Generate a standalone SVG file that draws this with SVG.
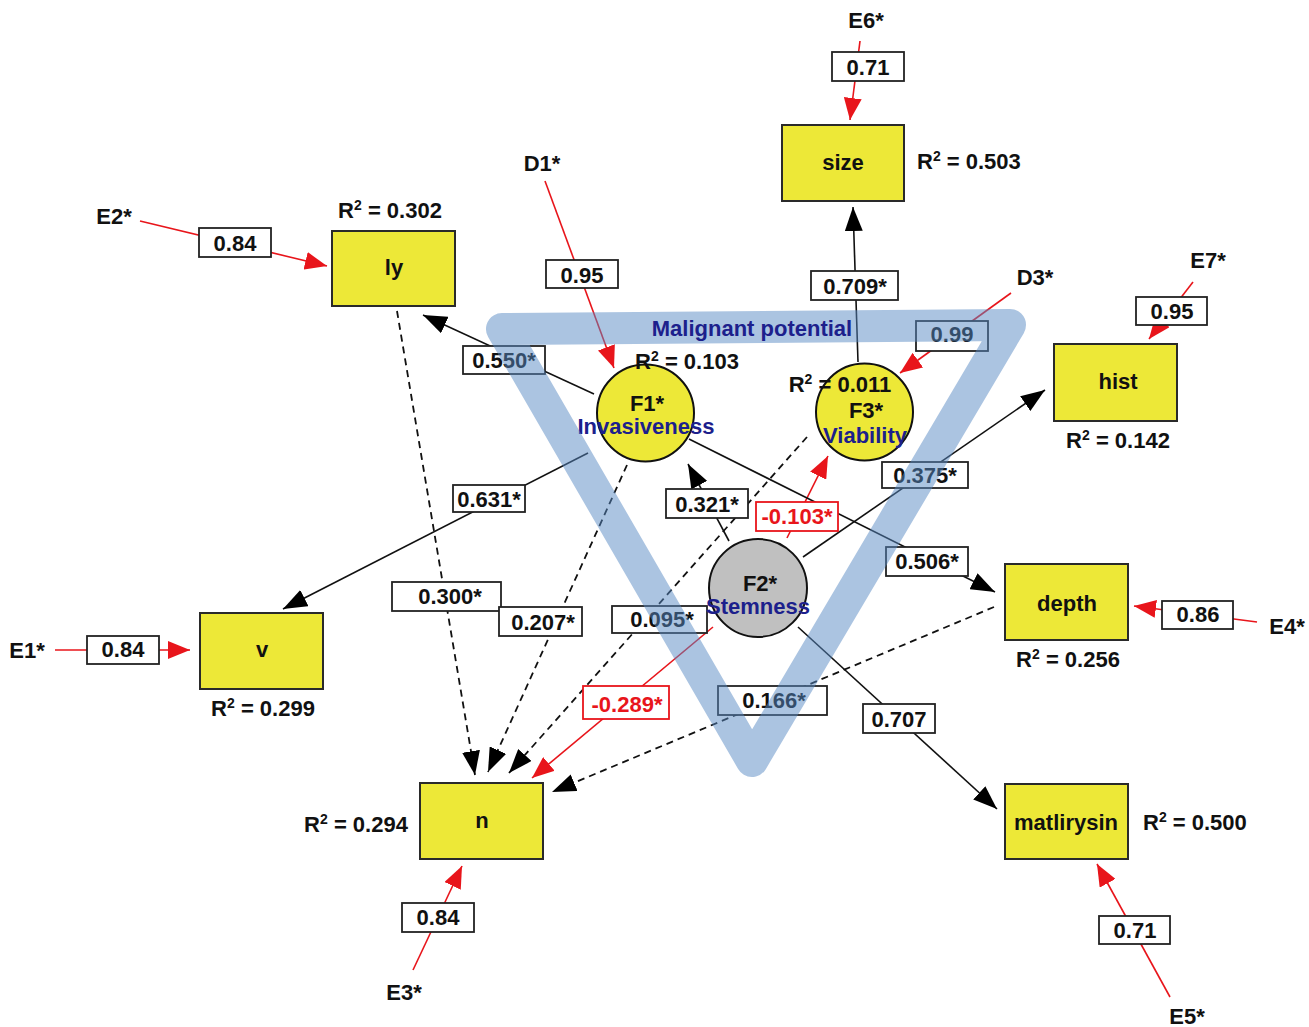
<svg xmlns="http://www.w3.org/2000/svg" width="1309" height="1027" viewBox="0 0 1309 1027">
<style>
text{font-family:"Liberation Sans",Arial,sans-serif;font-weight:bold;font-size:22px;fill:#111;text-anchor:middle}
.st{text-anchor:start}
.sup{font-size:14px}
.red{fill:#e8151b}
.blue{fill:#1c208c}
.box{fill:#fff;stroke:#222;stroke-width:1.8}
.rbox{fill:#fff;stroke:#e8151b;stroke-width:1.8}
.node{fill:#ede837;stroke:#2a2a2a;stroke-width:2}
.lat{fill:#ede837;stroke:#111;stroke-width:2}
.lat2{fill:#c0c0c0;stroke:#111;stroke-width:2}
.re{stroke:#e8151b;stroke-width:1.6;fill:none;marker-end:url(#ar)}
.bk{stroke:#111;stroke-width:1.6;fill:none;marker-end:url(#ab)}
.ds{stroke:#111;stroke-width:1.8;fill:none;stroke-dasharray:7,5;marker-end:url(#ab)}
</style>
<defs>
<marker id="ar" viewBox="0 0 22 18" refX="22" refY="9" markerWidth="22" markerHeight="18" markerUnits="userSpaceOnUse" orient="auto">
<path d="M0,0 L22,9 L0,18 Z" fill="#e8151b"/>
</marker>
<marker id="ab" viewBox="0 0 24 18" refX="24" refY="9" markerWidth="24" markerHeight="18" markerUnits="userSpaceOnUse" orient="auto">
<path d="M0,0 L24,9 L0,18 Z" fill="#000"/>
</marker>
</defs>
<rect width="1309" height="1027" fill="#fff"/>

<g id="connectors">
<line class="re" x1="860" y1="41" x2="850" y2="120"/>
<line class="re" x1="545" y1="181" x2="614" y2="368"/>
<line class="re" x1="140" y1="221" x2="327" y2="266"/>
<line class="re" x1="1011" y1="293" x2="900" y2="373"/>
<line class="re" x1="1193" y1="282" x2="1149" y2="339"/>
<line class="re" x1="1257" y1="622" x2="1134" y2="606"/>
<line class="re" x1="55" y1="650" x2="190" y2="650"/>
<line class="re" x1="413" y1="970" x2="462" y2="866"/>
<line class="re" x1="1170" y1="997" x2="1097" y2="864"/>
<line class="re" x1="787" y1="538" x2="828" y2="456"/>
<line class="re" x1="713" y1="627" x2="532" y2="778"/>

<line class="bk" x1="858" y1="362" x2="853" y2="207"/>
<line class="bk" x1="594" y1="394" x2="423" y2="315"/>
<line class="bk" x1="588" y1="453" x2="283" y2="609"/>
<line class="bk" x1="729" y1="541" x2="688" y2="464"/>
<line class="bk" x1="689" y1="439" x2="995" y2="592"/>
<line class="bk" x1="803" y1="557" x2="1045" y2="390"/>
<line class="bk" x1="798" y1="627" x2="997" y2="809"/>

<line class="ds" x1="397" y1="311" x2="475" y2="775"/>
<line class="ds" x1="627" y1="465" x2="488" y2="772"/>
<line class="ds" x1="807" y1="437" x2="509" y2="773"/>
<line class="ds" x1="994" y1="607" x2="552" y2="792"/>

<g id="lab-e6"><rect class="box" x="832" y="52" width="72" height="29"/><text x="868" y="75">0.71</text></g>
<g id="lab-d1"><rect class="box" x="546" y="260" width="72" height="28"/><text x="582" y="283">0.95</text></g>
<g id="lab-e2"><rect class="box" x="199" y="228" width="72" height="29"/><text x="235" y="251">0.84</text></g>
<g id="lab-709"><rect class="box" x="811" y="271" width="87" height="29"/><text x="855" y="294">0.709*</text></g>
<g id="lab-d3"><rect class="box" x="916" y="321" width="72" height="30"/><text x="952" y="342">0.99</text></g>
<g id="lab-e7"><rect class="box" x="1136" y="297" width="71" height="28"/><text x="1172" y="319">0.95</text></g>
<g id="lab-550"><rect class="box" x="463" y="346" width="82" height="28"/><text x="504" y="368">0.550*</text></g>
<g id="lab-631"><rect class="box" x="453" y="485" width="72" height="27"/><text x="489" y="507">0.631*</text></g>
<g id="lab-321"><rect class="box" x="666" y="489" width="82" height="29"/><text x="707" y="512">0.321*</text></g>
<g id="lab-103"><rect class="rbox" x="756" y="502" width="82" height="29"/><text class="red" x="797" y="524">-0.103*</text></g>
<g id="lab-375"><rect class="box" x="882" y="462" width="86" height="26"/><text x="925" y="483">0.375*</text></g>
<g id="lab-506"><rect class="box" x="886" y="547" width="82" height="29"/><text x="927" y="569">0.506*</text></g>
<g id="lab-e4"><rect class="box" x="1162" y="601" width="71" height="28"/><text x="1198" y="622">0.86</text></g>
<g id="lab-707"><rect class="box" x="863" y="704" width="72" height="29"/><text x="899" y="727">0.707</text></g>
<g id="lab-166"><rect class="box" x="718" y="686" width="109" height="29"/><text x="774" y="708">0.166*</text></g>
<g id="lab-095"><rect class="box" x="612" y="606" width="95" height="27"/><text x="662" y="627">0.095*</text></g>
<g id="lab-289"><rect class="rbox" x="583" y="686" width="86" height="33"/><text class="red" x="627" y="712">-0.289*</text></g>
<g id="lab-300"><rect class="box" x="392" y="582" width="109" height="29"/><text x="450" y="604">0.300*</text></g>
<g id="lab-207"><rect class="box" x="499" y="607" width="83" height="29"/><text x="543" y="630">0.207*</text></g>
<g id="lab-e1"><rect class="box" x="87" y="636" width="72" height="28"/><text x="123" y="657">0.84</text></g>
<g id="lab-e3"><rect class="box" x="402" y="903" width="72" height="29"/><text x="438" y="925">0.84</text></g>
<g id="lab-e5"><rect class="box" x="1099" y="916" width="71" height="28"/><text x="1135" y="938">0.71</text></g>
</g>

<g id="E6"><text x="866" y="28">E6*</text></g>
<g id="D1"><text x="542" y="171">D1*</text></g>
<g id="E2"><text x="114" y="224">E2*</text></g>
<g id="D3"><text x="1035" y="285">D3*</text></g>
<g id="E7"><text x="1208" y="268">E7*</text></g>
<g id="E4"><text x="1287" y="634">E4*</text></g>
<g id="E1"><text x="27" y="658">E1*</text></g>
<g id="E3"><text x="404" y="1000">E3*</text></g>
<g id="E5"><text x="1187" y="1024">E5*</text></g>

<g id="size"><rect class="node" x="782" y="125" width="122" height="76"/><text x="843" y="170">size</text><text class="st" x="917" y="169">R<tspan class="sup" dy="-8">2</tspan><tspan dy="8"> = 0.503</tspan></text></g>
<g id="ly"><rect class="node" x="332" y="231" width="123" height="75"/><text x="394" y="275">ly</text><text x="390" y="218">R<tspan class="sup" dy="-8">2</tspan><tspan dy="8"> = 0.302</tspan></text></g>
<g id="hist"><rect class="node" x="1054" y="344" width="123" height="77"/><text x="1118" y="389">hist</text><text x="1118" y="448">R<tspan class="sup" dy="-8">2</tspan><tspan dy="8"> = 0.142</tspan></text></g>
<g id="depth"><rect class="node" x="1005" y="564" width="123" height="76"/><text x="1067" y="611">depth</text><text x="1068" y="667">R<tspan class="sup" dy="-8">2</tspan><tspan dy="8"> = 0.256</tspan></text></g>
<g id="v"><rect class="node" x="200" y="613" width="123" height="76"/><text x="262" y="657">v</text><text x="263" y="716">R<tspan class="sup" dy="-8">2</tspan><tspan dy="8"> = 0.299</tspan></text></g>
<g id="n"><rect class="node" x="420" y="783" width="123" height="76"/><text x="482" y="828">n</text><text x="356" y="832">R<tspan class="sup" dy="-8">2</tspan><tspan dy="8"> = 0.294</tspan></text></g>
<g id="matlirysin"><rect class="node" x="1005" y="784" width="123" height="75"/><text x="1066" y="830">matlirysin</text><text class="st" x="1143" y="830">R<tspan class="sup" dy="-8">2</tspan><tspan dy="8"> = 0.500</tspan></text></g>

<g id="F1"><circle class="lat" cx="645.5" cy="413" r="48.5"/><text x="647" y="411">F1*</text><text class="blue" x="646" y="434">Invasiveness</text><text x="687" y="369">R<tspan class="sup" dy="-8">2</tspan><tspan dy="8"> = 0.103</tspan></text></g>
<g id="F3"><circle class="lat" cx="864.5" cy="412" r="48.5"/><text x="840" y="392">R<tspan class="sup" dy="-8">2</tspan><tspan dy="8"> = 0.011</tspan></text><text x="866" y="418">F3*</text><text class="blue" x="865" y="443">Viability</text></g>
<g id="F2"><circle class="lat2" cx="758" cy="588" r="49"/><text x="760" y="591">F2*</text><text class="blue" x="758" y="614">Stemness</text></g>

<g id="malignant">
<path d="M502,329 L1010,325 L752,761 Z" fill="none" stroke="#5889c4" stroke-opacity="0.5" stroke-width="32" stroke-linejoin="round" stroke-linecap="round"/>
<text class="blue" x="752" y="336">Malignant potential</text>
</g>
</svg>
